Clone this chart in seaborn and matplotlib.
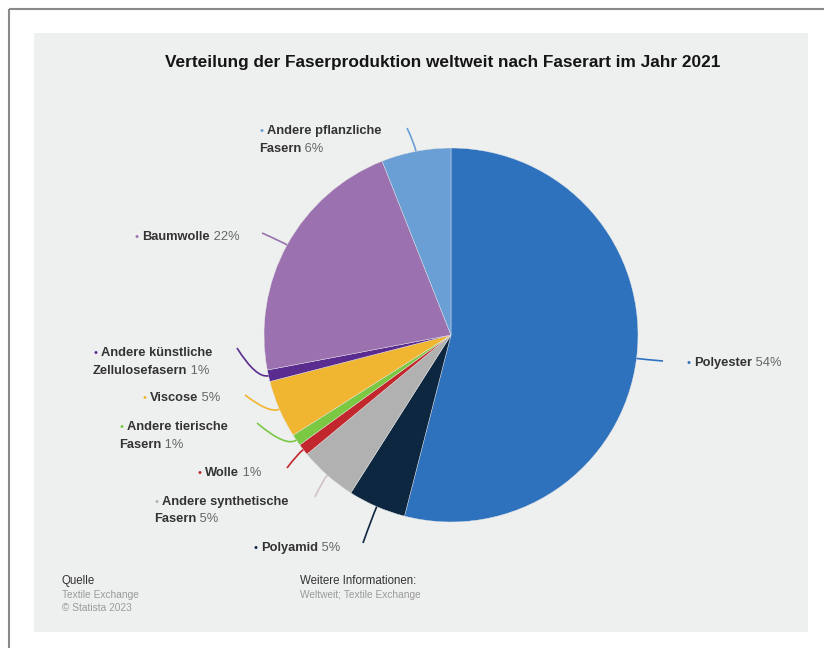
import numpy as np
import matplotlib
matplotlib.use("Agg")
import matplotlib.pyplot as plt
from matplotlib.patches import Rectangle, PathPatch
from matplotlib.path import Path
import seaborn as sns

# ---- data ----
title = "Verteilung der Faserproduktion weltweit nach Faserart im Jahr 2021"
categories = [
    "Polyester",
    "Polyamid",
    "Andere synthetische\nFasern",
    "Wolle",
    "Andere tierische\nFasern",
    "Viscose",
    "Andere künstliche\nZellulosefasern",
    "Baumwolle",
    "Andere pflanzliche\nFasern",
]
shares = [54, 5, 5, 1, 1, 5, 1, 22, 6]
colors = ["#2e72be", "#0e2741", "#b1b1b1", "#c1272d", "#7bc843",
          "#f0b531", "#5b2c8f", "#9b71b0", "#6a9fd5"]
source_lines = ["Quelle", "Textile Exchange", "\u00a9 Statista 2023"]
info_lines = ["Weitere Informationen:", "Weltweit; Textile Exchange"]

# ---- layout (pixel coordinates) ----
W, H = 824, 648
CX, CY, R = 451, 335, 187
label_xy = [(687, 363), (254, 548), (155, 502), (198, 473), (120, 427),
            (143, 398), (94, 353), (135, 237), (260, 131)]
leader_end = [(663, 361), (363, 543), (315, 497), (287, 468), (257, 423),
              (245, 395), (237, 348), (262, 233), (407, 128)]
leader_colors = colors[:]
leader_colors[2] = "#d2c4c4"

sns.set_theme(style="white")
plt.rcParams["font.family"] = ["Liberation Sans", "DejaVu Sans"]

fig = plt.figure(figsize=(W / 100, H / 100), dpi=100)
fig.patch.set_facecolor("white")
ax = fig.add_axes([0, 0, 1, 1])

# background panel and frame lines
ax.add_patch(Rectangle((34, 33), 808 - 34, 632 - 33, facecolor="#eeefef",
                       edgecolor="none", zorder=0))
ax.plot([9, 9], [9, H], color="#8a8a8a", lw=1.5, zorder=1, solid_capstyle="butt")
ax.plot([9, W], [9, 9], color="#8a8a8a", lw=1.5, zorder=1, solid_capstyle="butt")

# pie: clockwise from 12 o'clock (y axis is inverted, so counterclock=True)
wedges, _ = ax.pie(shares, colors=colors, startangle=-90, counterclock=True,
                   center=(CX, CY), radius=R,
                   wedgeprops=dict(edgecolor="#e6e6e6", linewidth=0.3))
for w in wedges:
    w.set_zorder(2)

ax.set_xlim(0, W)
ax.set_ylim(H, 0)
ax.set_aspect("auto")
ax.axis("off")

# leader lines from the wedge middle on the rim out to the labels
total = float(sum(shares))
cum = np.cumsum([0] + shares)
for i, val in enumerate(shares):
    frac = (cum[i] + val / 2) / total
    ang = 2 * np.pi * frac
    dx, dy = np.sin(ang), -np.cos(ang)
    p0 = np.array([CX + R * dx, CY + R * dy])
    p2 = np.array(leader_end[i], dtype=float)
    dist = np.hypot(*(p2 - p0))
    p1 = p0 + np.array([dx, dy]) * dist * 0.3
    path = Path([p0, p1, p2], [Path.MOVETO, Path.CURVE3, Path.CURVE3])
    ax.add_patch(PathPatch(path, facecolor="none", edgecolor=leader_colors[i],
                           lw=1.2, zorder=3))

# labels: coloured bullet, bold name, grey share
LFS = 9.3
LINE = 17.5
for i, (cat, val) in enumerate(zip(categories, shares)):
    x, y = label_xy[i]
    parts = cat.split("\n")
    ax.text(x + 1.5, y, "\u2022", color=colors[i], fontsize=8,
            ha="center", va="center", zorder=4)
    first_x = x + 7
    for j, part in enumerate(parts):
        lx = first_x if j == 0 else x - 1
        ly = y + j * LINE
        t = ax.text(lx, ly, part, fontsize=LFS, fontweight="bold",
                    color="#333333", ha="left", va="center", zorder=4)
        if j == len(parts) - 1:
            ax.annotate(f" {val}%", xy=(1, 0.5), xycoords=t, fontsize=LFS,
                        color="#666666", ha="left", va="center", zorder=4)

# title
ax.text(443, 63, title, fontsize=12.4, fontweight="bold", color="#151515",
        ha="center", va="center", zorder=4)

# footer
footer_y = [581, 595, 608]
for k, s in enumerate(source_lines):
    ax.text(62, footer_y[k], s, fontsize=8.3 if k == 0 else 7.3,
            color="#333333" if k == 0 else "#9a9a9a",
            ha="left", va="center", zorder=4)
for k, s in enumerate(info_lines):
    ax.text(300, footer_y[k], s, fontsize=8.3 if k == 0 else 7.3,
            color="#333333" if k == 0 else "#9a9a9a",
            ha="left", va="center", zorder=4)

fig.savefig("out.png", dpi=100, facecolor="white")
